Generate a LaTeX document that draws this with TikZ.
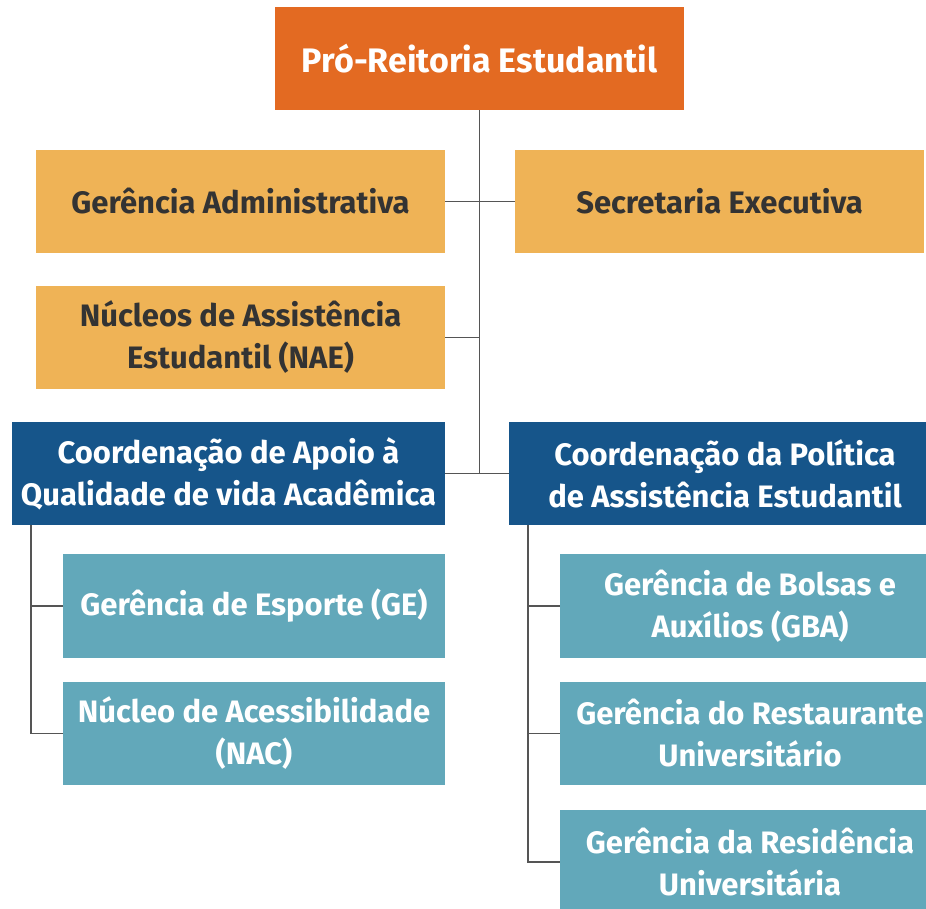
\documentclass[tikz,border=0pt]{standalone}
\usepackage{fontspec}
\setmainfont{Fira Sans}
\definecolor{orangeA}{HTML}{E36A22}
\definecolor{yellowA}{HTML}{EFB356}
\definecolor{blueA}{HTML}{16558A}
\definecolor{tealA}{HTML}{62A8BA}
\definecolor{lineA}{HTML}{555555}
\definecolor{textA}{HTML}{333333}
\tikzset{
  box/.style={inner sep=0pt, align=center, font=\fontsize{31}{42}\selectfont\bfseries, minimum height=103pt},
  topbox/.style={box, fill=orangeA, text=white, minimum width=409pt, font=\fontsize{34}{42}\selectfont\bfseries},
  ybox/.style={box, fill=yellowA, text=textA, minimum width=409pt},
  bbox/.style={box, fill=blueA, text=white},
  tbox/.style={box, fill=tealA, text=white},
  conn/.style={draw=lineA, line width=1.6pt}
}
\begin{document}
\begin{tikzpicture}[x=1pt,y=-1pt]
\clip (0,0) rectangle (926,909);
\fill[white] (0,0) rectangle (926,909);
\node[topbox] (top) at (479.5,58.5) {Pró-Reitoria Estudantil};
\node[ybox] (ga) at (240.5,201.5) {Gerência Administrativa};
\node[ybox] (se) at (719.5,201.5) {Secretaria Executiva};
\node[ybox] (nae) at (240.5,337.5) {Núcleos de Assistência\\Estudantil (NAE)};
\node[bbox, minimum width=433pt] (ca) at (228.5,473.5) {Coordenação de Apoio à\\Qualidade de vida Acadêmica};
\node[bbox, minimum width=432pt] (cp) at (725,473.5) {Coordenação da Política\\de Assistência Estudantil};
\node[tbox, minimum width=382pt, minimum height=104pt] (ge) at (254,606) {Gerência de Esporte (GE)};
\node[tbox, minimum width=382pt] (nac) at (254,733.5) {Núcleo de Acessibilidade\\(NAC)};
\node[tbox, minimum width=380pt, minimum height=104pt] (gba) at (750,606) {Gerência de Bolsas e\\Auxílios (GBA)};
\node[tbox, minimum width=380pt] (ru) at (750,733.5) {Gerência do Restaurante\\Universitário};
\node[tbox, minimum width=380pt, minimum height=104pt] (res) at (750,862) {Gerência da Residência\\Universitária};
\coordinate (lb) at (31,525);
\coordinate (rb) at (528,525);
\draw[conn] (top.south) -- (top.south |- ca.east);
\draw[conn] (ga.east) -- (se.west);
\draw[conn] (nae.east) -- (nae.east -| top.south);
\draw[conn] (ca.east) -- (cp.west);
\draw[conn] (lb) |- (nac.west);
\draw[conn] (lb |- ge.west) -- (ge.west);
\draw[conn] (rb) |- (res.west);
\draw[conn] (rb |- gba.west) -- (gba.west);
\draw[conn] (rb |- ru.west) -- (ru.west);
\end{tikzpicture}
\end{document}
